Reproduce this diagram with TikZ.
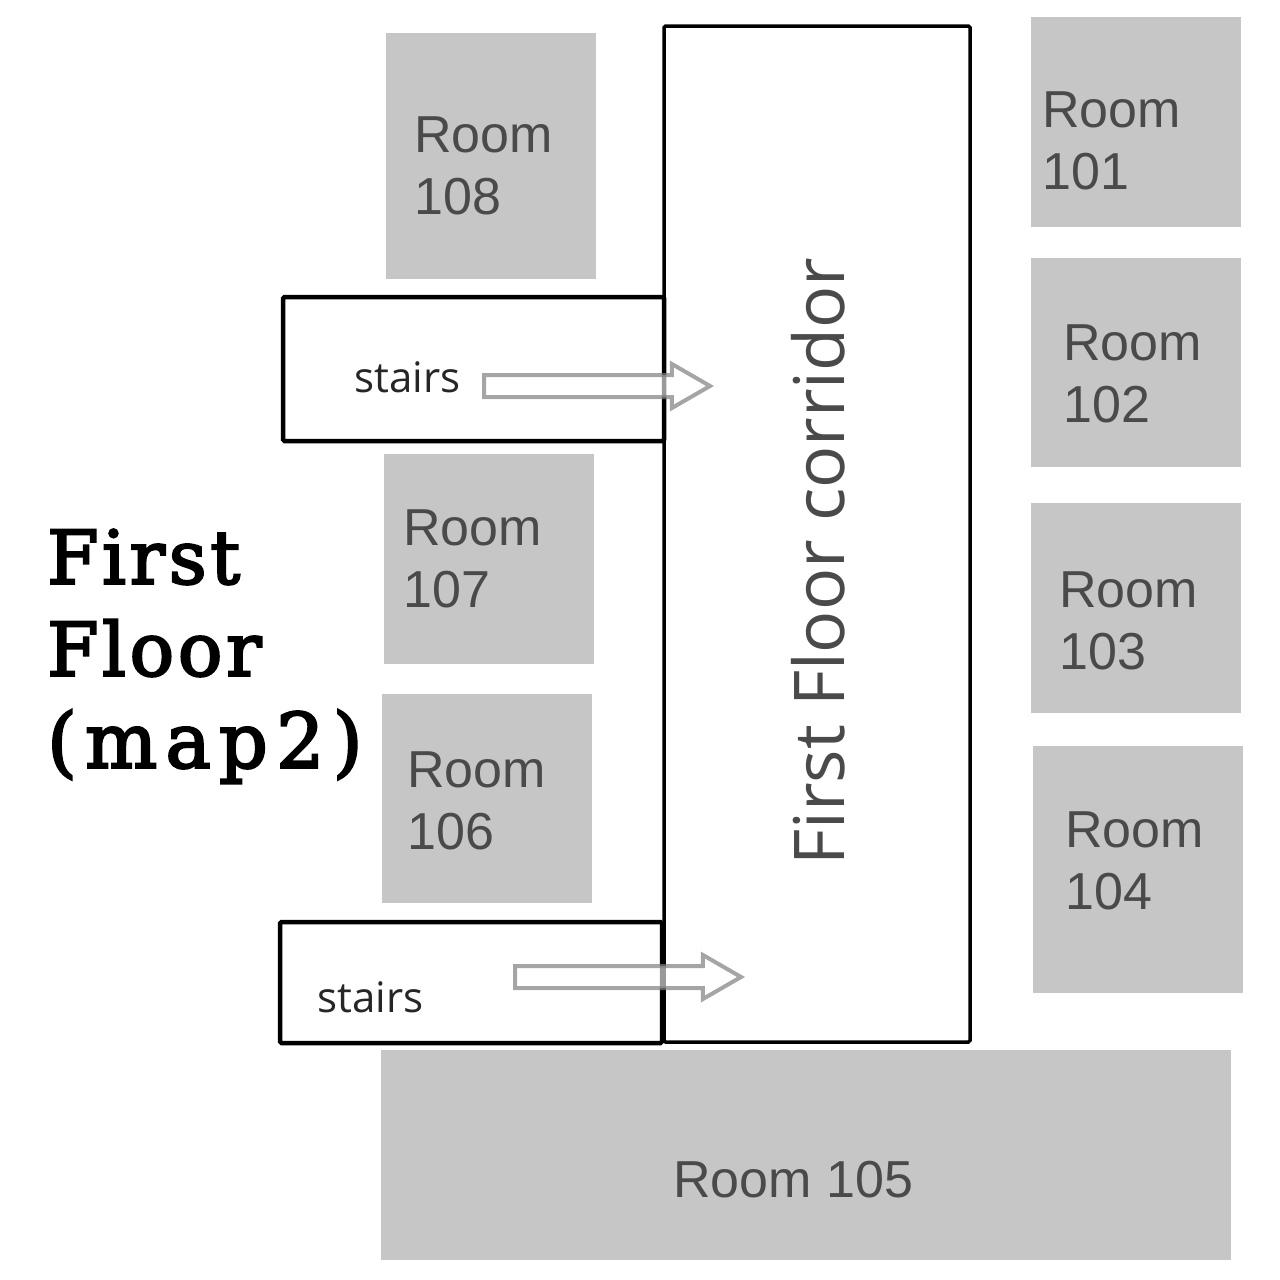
\documentclass[tikz,border=0pt]{standalone}
\usepackage{fontspec}
\setmainfont{Liberation Sans}
\newfontfamily\titlefont[FakeBold=3,LetterSpace=5]{DejaVu Serif}
\newfontfamily\titlewide[FakeBold=3,LetterSpace=11]{DejaVu Serif}
\newfontfamily\widefont{Open Sans}
\usetikzlibrary{shapes.arrows}
\definecolor{roomgray}{HTML}{C6C6C6}
\definecolor{roomtext}{HTML}{4A4A4A}
\tikzset{
  x=1pt,y=-1pt,
  roombox/.style={draw=none,fill=roomgray,inner sep=0pt,outer sep=0pt,anchor=north west},
  roomlabel/.style={anchor=west,align=left,inner sep=0pt,text=roomtext,font=\fontsize{52}{62}\selectfont},
  framebox/.style={draw=black,fill=white,rounded corners=1.5pt,inner sep=0pt,outer sep=0pt,anchor=north west},
  stairlabel/.style={anchor=base west,inner sep=0pt,text=black!85,font=\widefont\fontsize{42}{48}\selectfont},
  blockarrow/.style={single arrow,draw=black!50,line width=4pt,fill=white,fill opacity=.6,draw opacity=.7,
    inner sep=0pt,text height=18pt,text depth=0pt,text width=0pt,
    single arrow tip angle=60,single arrow head extend=11pt,single arrow head indent=0pt,anchor=west},
}
\begin{document}
\begin{tikzpicture}
\useasboundingbox[fill=white] (0,0) rectangle (1280,1280);
% corridor and stairs
\node[framebox,line width=3.5pt,minimum width=306pt,minimum height=1016pt] (corridor) at (664,26) {};
\node[framebox,line width=4.5pt,minimum width=381pt,minimum height=144pt] (stairsA) at (283,297) {};
\node[framebox,line width=4.5pt,minimum width=382pt,minimum height=121pt] (stairsB) at (280,922) {};
% rooms
\node[roombox,minimum width=210pt,minimum height=246pt] (r108) at (386,33) {};
\node[roombox,minimum width=210pt,minimum height=210pt] (r107) at (384,454) {};
\node[roombox,minimum width=210pt,minimum height=209pt] (r106) at (382,694) {};
\node[roombox,minimum width=210pt,minimum height=210pt] (r101) at (1031,17) {};
\node[roombox,minimum width=210pt,minimum height=209pt] (r102) at (1031,258) {};
\node[roombox,minimum width=210pt,minimum height=210pt] (r103) at (1031,503) {};
\node[roombox,minimum width=210pt,minimum height=247pt] (r104) at (1033,746) {};
\node[roombox,minimum width=850pt,minimum height=210pt] (r105) at (381,1050) {};
% room labels
\node[roomlabel] (l108) at (414,166) {Room\\108};
\node[roomlabel] (l107) at (403,559) {Room\\107};
\node[roomlabel] (l106) at (407,801) {Room\\106};
\node[roomlabel] (l101) at (1042,141) {Room\\101};
\node[roomlabel] (l102) at (1063,374) {Room\\102};
\node[roomlabel] (l103) at (1059,621) {Room\\103};
\node[roomlabel] (l104) at (1065,861) {Room\\104};
\node[roomlabel] (l105) at (673,1180) {Room 105};
% stairs labels
\node[stairlabel] (sa) at (354,392) {stairs};
\node[stairlabel] (sb) at (317,1012) {stairs};
% arrows
\node[blockarrow,minimum height=226pt] (aA) at (482,386) {};
\node[blockarrow,minimum height=226pt] (aB) at (513,977) {};
% corridor label
\node[rotate=90,anchor=center,inner sep=0pt,text=roomtext,font=\widefont\fontsize{70}{80}\selectfont] (clabel) at (818,561.5) {First Floor corridor};
% title
\node[anchor=north west,align=left,inner sep=0pt,text=black,font=\titlefont\fontsize{74}{92}\selectfont] (title) at (47,529) {First\\Floor\\{\titlewide\fontsize{76}{92}\selectfont (map2)}};
\end{tikzpicture}
\end{document}
